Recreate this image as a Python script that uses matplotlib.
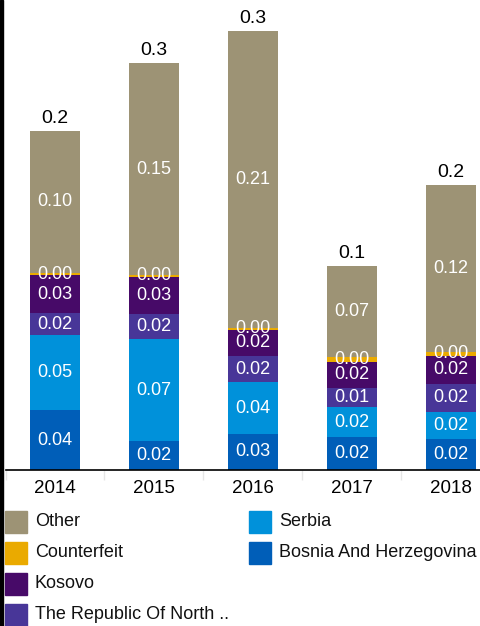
import matplotlib.pyplot as plt
from matplotlib.patches import Rectangle

plt.rcParams['font.family'] = ['Liberation Sans', 'DejaVu Sans']

# data
years = ['2014', '2015', '2016', '2017', '2018']
bosnia = [0.043, 0.021, 0.026, 0.024, 0.022]
serbia = [0.054, 0.073, 0.037, 0.021, 0.020]
north_macedonia = [0.016, 0.018, 0.019, 0.014, 0.020]
kosovo = [0.027, 0.027, 0.019, 0.019, 0.020]
counterfeit = [0.002, 0.0015, 0.001, 0.003, 0.003]
other = [0.102, 0.152, 0.214, 0.066, 0.120]

# bottom to top
series = [
    ('Bosnia And Herzegovina', bosnia, '#005eb8'),
    ('Serbia', serbia, '#0091da'),
    ('The Republic Of North ..', north_macedonia, '#483698'),
    ('Kosovo', kosovo, '#470a68'),
    ('Counterfeit', counterfeit, '#eaaa00'),
    ('Other', other, '#9d9375'),
]

W, H = 481, 626
fig = plt.figure(figsize=(W / 100, H / 100), dpi=100)
# axes runs a bit past the right edge like the reference
ax = fig.add_axes([5.5 / W, 156 / H, 495 / W, 470 / H])

x = list(range(len(years)))
bottom = [0.0] * len(years)
for name, vals, col in series:
    bars = ax.bar(x, vals, width=0.515, bottom=bottom, color=col)
    for i, b in enumerate(bars):
        ax.text(b.get_x() + b.get_width() / 2, bottom[i] + vals[i] / 2,
                '%.2f' % vals[i], ha='center', va='center',
                color='white', fontsize=13)
    bottom = [bottom[i] + vals[i] for i in range(len(years))]

# totals on top
for i, t in enumerate(bottom):
    ax.annotate('%.1f' % t, (i, t), xytext=(0, 3), textcoords='offset points',
                ha='center', va='bottom', fontsize=14, color='black')

ax.set_xlim(-0.5, len(years) - 0.5)
ax.set_ylim(0, 470 / 1390)
ax.set_xticks(x)
ax.set_xticklabels(years, fontsize=13.5)
ax.tick_params(axis='x', which='major', length=0, pad=7)
ax.set_xticks([i - 0.5 for i in range(len(years) + 1)], minor=True)
ax.tick_params(axis='x', which='minor', length=7, color='#e6e6e6', width=1)
ax.set_yticks([])
for s in ['top', 'right', 'left']:
    ax.spines[s].set_visible(False)
ax.spines['bottom'].set_linewidth(1.2)

# left border line
fig.patches.append(Rectangle((0, 0), 3 / W, 1, transform=fig.transFigure,
                             color='black', zorder=5))

# legend, two columns filled top-down
legend_items = series[::-1]
for k, (name, vals, col) in enumerate(legend_items):
    c, r = divmod(k, 4)
    px = 5 + c * 244
    py = 521.5 + r * 31
    fig.patches.append(Rectangle((px / W, 1 - (py + 11) / H), 22 / W, 22 / H,
                                 transform=fig.transFigure, color=col))
    fig.text((px + 30) / W, 1 - py / H, name, ha='left', va='center',
             fontsize=13, color='#111111')

fig.savefig('out.png', dpi=100)
